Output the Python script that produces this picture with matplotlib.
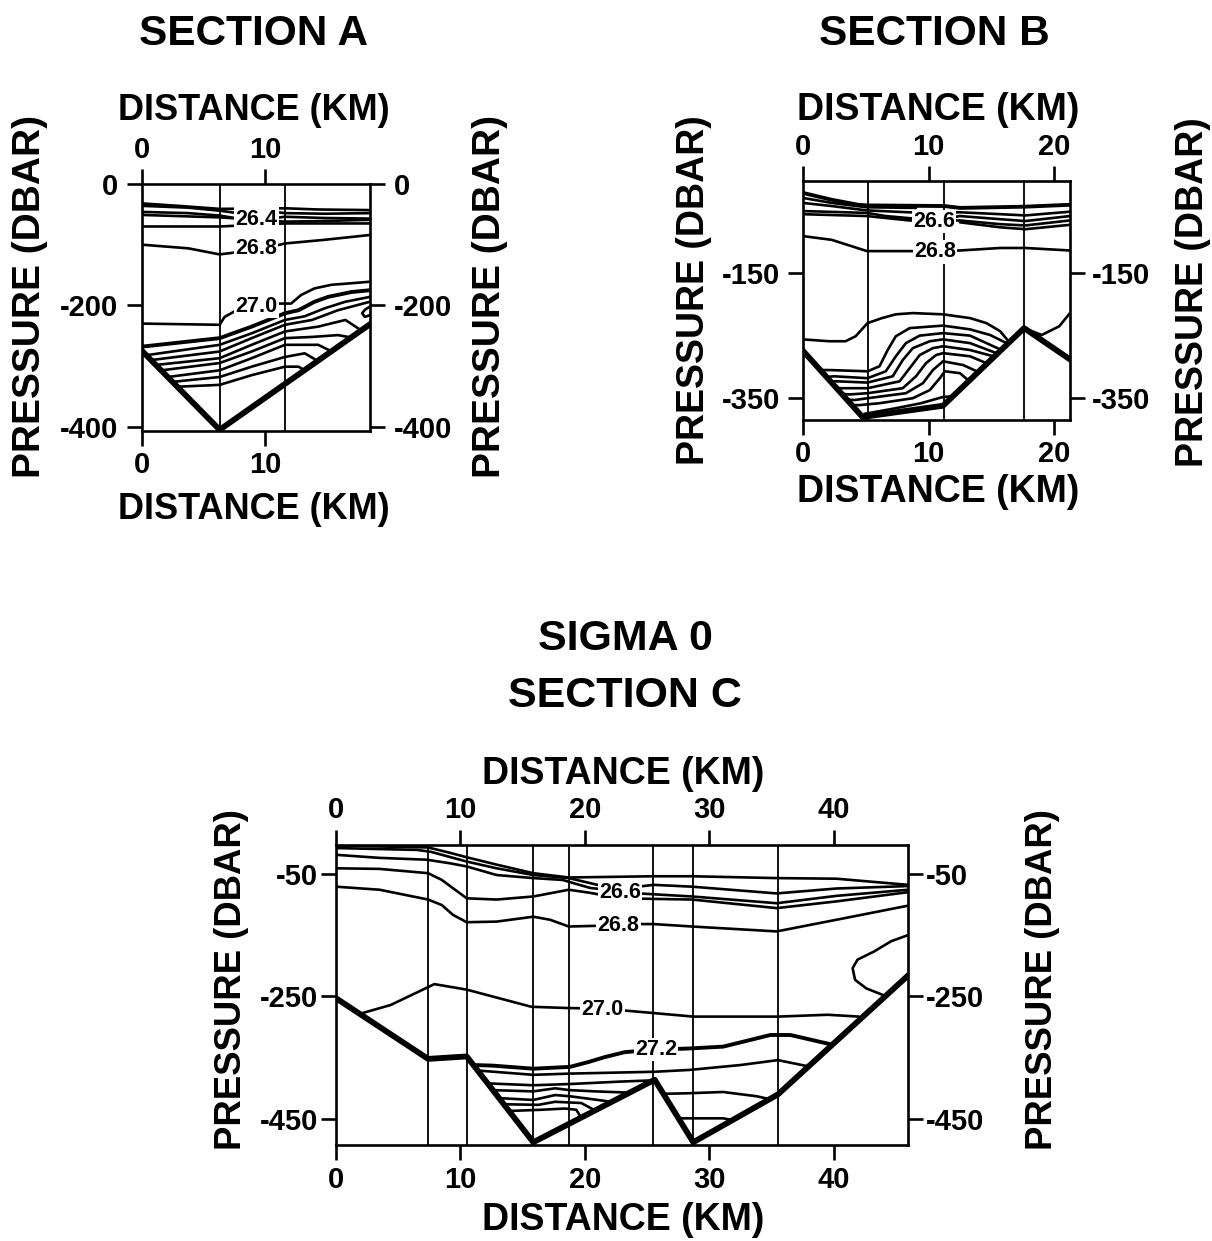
import matplotlib
matplotlib.use('Agg')
import matplotlib.pyplot as plt

plt.rcParams['font.family'] = ['Liberation Sans', 'DejaVu Sans']
plt.rcParams['font.weight'] = 'bold'
plt.rcParams['axes.unicode_minus'] = False

# ---------------- Section A ----------------
A_stations = [6.3, 11.6]
A_bottom_km = [0, 6.3, 18.5]
A_bottom_p = [-275, -405, -231]
A_lines_km = [
    [0, 2.95, 6.3, 11.6, 14.3, 18.5],
    [0, 3.75, 6.3, 7.4, 11.2, 11.6, 14.8, 18.5],
    [0, 3.75, 6.3, 7.5, 9.3, 11.2, 11.6, 14.8, 18.5],
    [0, 6.3, 11.6, 14.8, 18.5],
    [0, 6.3, 11.6, 14.8, 18.5],
    [0, 3.75, 6.3, 7.5, 9.2, 11.2, 11.6, 14.8, 18.5],
    [0, 6.3, 6.7, 7.5, 9.3, 11.2, 12.1, 12.9, 14.0, 15.4, 16.7, 18.5],
    [0, 6.3, 8.9, 11.6, 12.7, 14.0, 15.1, 17.0, 18.5],
    [0.4, 6.3, 8.9, 11.6, 13.2, 14.8, 16.5, 18.5],
    [0.8, 6.3, 8.9, 11.6, 13.8, 15.9, 18.5],
    [1.2, 6.3, 8.9, 11.6, 14.3, 16.5, 17.7],
    [1.6, 6.3, 8.9, 11.6, 13.8, 15.9, 17.0],
    [2.1, 6.3, 8.9, 11.6, 14.3, 15.4],
    [2.5, 6.3, 8.9, 11.6, 13.2, 14.3],
    [2.9, 6.3, 8.9, 11.6, 12.7, 13.2],
    [18.5, 18.1, 17.86, 18.08, 18.5],
]
A_lines_p = [
    [-32, -36, -41, -40, -42, -43],
    [-36, -39, -44, -47, -47, -48, -49, -48],
    [-46, -48, -52, -56, -58, -55, -54, -56, -57],
    [-51, -55, -62, -61, -59],
    [-70, -70, -65, -65, -65],
    [-100, -106, -116, -113, -107, -100, -98, -92, -84],
    [-230, -232, -219, -210, -203, -197, -197, -183, -172, -166, -164, -161],
    [-268, -254, -235, -213, -208, -194, -186, -178, -175],
    [-282, -265, -246, -224, -218, -205, -194, -186],
    [-290, -276, -254, -232, -224, -208, -194],
    [-298, -287, -265, -243, -235, -224, -240],
    [-307, -295, -276, -254, -252, -249, -253],
    [-318, -307, -287, -265, -265, -276],
    [-326, -318, -301, -285, -279, -292],
    [-334, -331, -315, -301, -301, -307],
    [-202, -207, -213, -219, -216],
]
A_thick = [7]
A_label_text = ['26.4', '26.8', '27.0']
A_label_km = [9.3, 9.25, 9.3]
A_label_p = [-58, -106, -202]

# ---------------- Section B ----------------
B_stations = [5.15, 11.2, 17.6]
B_bottom_km = [0, 4.75, 11.15, 17.6, 21.25]
B_bottom_p = [-274, -380, -362, -238, -288]
B_lines_km = [
    [0, 2.3, 4.4, 5.1, 11.26, 12.5, 17.7, 21.25],
    [0, 2.3, 5.1, 9.0],
    [0, 2.3, 5.1, 8.45, 12.5, 15.7, 17.7, 21.25],
    [0, 5.1, 6.6, 10.45, 12.5, 15.7, 17.7, 21.25],
    [0, 5.1, 8.45, 12.5, 15.7, 17.7, 21.25],
    [12.5, 15.7, 17.7, 21.25],
    [0, 2.3, 5.1, 8.7, 10.45, 12.5, 15.7, 17.7, 21.25],
    [0, 2.1, 3.4, 4.2, 5.15, 6.3, 7.4, 8.75, 11.15, 13.3, 14.6, 15.7, 16.4],
    [17.6, 19.0, 20.4, 21.25],
    [1.4, 2.1, 5.15, 6.1, 6.75, 7.4, 8.5, 11.15, 13.3, 14.9, 16.2],
    [1.9, 2.5, 5.15, 6.6, 7.4, 8.2, 9.3, 11.15, 13.3, 15.7],
    [2.2, 2.75, 5.15, 7.15, 7.95, 8.75, 10.1, 11.15, 13.3, 15.4],
    [2.7, 3.15, 5.15, 7.7, 8.5, 9.3, 10.35, 11.15, 13.3, 15.15],
    [3.1, 3.7, 5.15, 7.95, 9.0, 9.8, 10.6, 11.15, 13.3, 14.6],
    [3.5, 4.1, 5.15, 8.2, 9.55, 10.35, 11.15, 12.75, 13.95],
    [3.9, 4.5, 6.1, 8.75, 10.1, 10.9, 11.3, 12.5, 13.2],
    [4.9, 7.4, 9.4, 11.15, 11.9],
]
B_lines_p = [
    [-22, -33, -41, -42, -43, -46, -44, -41],
    [-30, -38, -45, -46],
    [-38, -43, -50, -53, -53, -56, -58, -52],
    [-51, -54, -59, -66, -59, -64, -67, -59],
    [-56, -59, -66, -66, -72, -74, -66],
    [-69, -77, -80, -73],
    [-91, -97, -115, -115, -115, -114, -110, -110, -114],
    [-256, -259, -259, -251, -230, -222, -216, -214, -216, -222, -230, -243, -260],
    [-238, -249, -235, -214],
    [-305, -305, -307, -299, -273, -251, -238, -234, -240, -249, -262],
    [-316, -315, -318, -307, -283, -262, -250, -246, -250, -272],
    [-323, -323, -325, -315, -289, -270, -259, -256, -262, -278],
    [-334, -334, -334, -323, -302, -281, -270, -267, -273, -283],
    [-343, -344, -342, -334, -315, -294, -281, -278, -283, -294],
    [-352, -353, -350, -342, -326, -305, -291, -297, -308],
    [-361, -361, -358, -350, -337, -318, -307, -310, -322],
    [-375, -366, -358, -348, -347],
]
B_thick = [0]
B_label_text = ['26.6', '26.8']
B_label_km = [10.45, 10.5]
B_label_p = [-68, -116]

# ---------------- Section C ----------------
C_stations = [7.4, 10.5, 15.85, 18.75, 25.5, 28.65, 35.5]
C_bottom_km = [0, 7.4, 10.5, 15.85, 25.6, 28.7, 35.5, 45.95]
C_bottom_p = [-253, -352, -348, -488, -386, -488, -410, -216]
C_lines_km = [
    [0, 7.4, 9.2, 10.5, 12.9, 15.85, 18.7, 25.5, 28.6, 35.4, 40.2, 45.95],
    [0, 6.5, 7.6, 10.5, 12.9, 15.85, 18.7, 21.0, 24.3, 25.5, 28.6, 35.4, 40.2, 45.95],
    [0, 3.5, 7.3, 9.2, 10.5, 12.9, 15.85, 18.2, 20.4, 24.3, 28.6, 35.4, 40.2, 45.95],
    [0, 3.5, 7.4, 8.5, 10.5, 12.9, 15.85, 18.7, 20.4, 22.8, 28.6, 35.4, 40.2, 45.95],
    [0, 3.5, 7.4, 8.5, 9.4, 10.5, 12.9, 15.85, 17.2, 18.7, 20.7, 24.3, 25.5, 28.6,
     35.4, 40.2, 45.95],
    [2.0, 4.4, 7.9, 10.5, 15.7, 18.6, 21.4, 25.4, 28.7, 35.5, 39.5, 42.0],
    [11.1, 12.6, 15.85, 18.8, 20.3, 21.6, 23.2, 25.6, 28.4, 31.1, 34.9, 36.5, 39.7],
    [11.4, 15.85, 18.8, 25.6, 28.4, 32.5, 35.5, 37.9],
    [12.2, 15.85, 18.8, 22.9, 25.5],
    [12.6, 15.85, 17.6, 18.8, 20.8, 23.5],
    [13.1, 15.85, 17.6, 18.8, 20.3, 22.1],
    [13.5, 16.25, 17.6, 19.7, 20.8],
    [13.9, 16.5, 18.4, 19.3, 19.7],
    [26.3, 28.4, 31.1, 33.8, 34.9],
    [27.5, 28.4, 31.1, 31.9],
    [45.95, 44.6, 43.2, 41.9, 41.5, 41.7, 42.6, 44.1],
]
C_lines_p = [
    [-4, -7, -16, -23, -35, -49, -56, -54, -54, -57, -58, -68],
    [-8, -11, -14, -30, -41, -52, -57, -68, -71, -68, -71, -82, -74, -70],
    [-19, -24, -27, -33, -38, -52, -57, -60, -73, -82, -87, -98, -86, -76],
    [-41, -42, -49, -60, -90, -92, -87, -76, -81, -90, -92, -106, -95, -80],
    [-71, -76, -92, -101, -117, -129, -128, -120, -125, -136, -135, -132, -132, -136,
     -144, -125, -102],
    [-278, -264, -230, -239, -267, -269, -270, -277, -283, -283, -280, -283],
    [-362, -363, -368, -365, -357, -349, -341, -337, -335, -332, -313, -313, -328],
    [-371, -378, -376, -373, -370, -362, -354, -364],
    [-392, -395, -393, -389, -387],
    [-403, -405, -400, -403, -405, -407],
    [-416, -419, -411, -413, -417, -422],
    [-426, -427, -422, -424, -436],
    [-437, -435, -433, -435, -448],
    [-409, -408, -406, -413, -418],
    [-449, -449, -449, -452],
    [-150, -160, -177, -190, -204, -223, -237, -249],
]
C_thick = [6]
C_label_text = ['26.6', '26.8', '27.0', '27.2']
C_label_km = [22.8, 22.7, 21.4, 25.7]
C_label_p = [-80, -134, -271, -337]

W, H = 1212, 1241


def draw_section(ax, stations, bot_km, bot_p, lines_km, lines_p, thick,
                 lab_txt, lab_km, lab_p):
    # estaciones (verticales), isopicnas, fondo y etiquetas
    for s in stations:
        ax.axvline(s, color='k', lw=1.3, zorder=1)
    for i, (xs, ys) in enumerate(zip(lines_km, lines_p)):
        ax.plot(xs, ys, color='k', lw=2.8 if i in thick else 1.9,
                solid_joinstyle='round', solid_capstyle='round', zorder=2)
    ax.plot(bot_km, bot_p, color='k', lw=4.2, zorder=3)
    for t, x, y in zip(lab_txt, lab_km, lab_p):
        ax.text(x, y, t, fontsize=15.5, ha='center', va='center', zorder=4,
                bbox=dict(boxstyle='square,pad=0.06', fc='white', ec='none'))


def style_axes(ax, xlim, ylim, xticks, yticks, xpad, ypad):
    ax.set_xlim(xlim)
    ax.set_ylim(ylim)
    ax.set_xticks(xticks)
    ax.set_yticks(yticks)
    ax.tick_params(direction='out', length=11, width=1.9, labelsize=21,
                   top=True, right=True, labeltop=True, labelright=True)
    ax.tick_params(axis='x', pad=xpad)
    ax.tick_params(axis='y', pad=ypad)
    for sp in ax.spines.values():
        sp.set_linewidth(1.9)


def ftext(fig, x, y, s, size, vertical=False):
    # x, y en pixeles desde la esquina superior izquierda; y es la linea base
    if vertical:
        fig.text(x / W, 1 - y / H, s, fontsize=size, rotation=90,
                 rotation_mode='anchor', ha='center', va='baseline')
    else:
        fig.text(x / W, 1 - y / H, s, fontsize=size, ha='center', va='baseline')


def main():
    fig = plt.figure(figsize=(W / 100, H / 100), dpi=100)

    # Section A
    ax_a = fig.add_axes([142 / W, 1 - 431 / H, 228 / W, 247 / H])
    draw_section(ax_a, A_stations, A_bottom_km, A_bottom_p, A_lines_km, A_lines_p,
                 A_thick, A_label_text, A_label_km, A_label_p)
    style_axes(ax_a, (0, 18.5), (-407, 0), [0, 10], [0, -200, -400], 3.5, 6)
    ftext(fig, 254, 45, 'SECTION A', 30.5)
    ftext(fig, 254, 120, 'DISTANCE (KM)', 26)
    ftext(fig, 254, 519, 'DISTANCE (KM)', 26)
    ftext(fig, 40, 296, 'PRESSURE (DBAR)', 28, vertical=True)
    ftext(fig, 500, 296, 'PRESSURE (DBAR)', 28, vertical=True)

    # Section B
    ax_b = fig.add_axes([802.8 / W, 1 - 419.5 / H, 267.2 / W, 238.5 / H])
    draw_section(ax_b, B_stations, B_bottom_km, B_bottom_p, B_lines_km, B_lines_p,
                 B_thick, B_label_text, B_label_km, B_label_p)
    style_axes(ax_b, (0, 21.25), (-384, -3), [0, 10, 20], [-150, -350], 3.5, 5)
    ftext(fig, 934, 45, 'SECTION B', 30.5)
    ftext(fig, 938, 120, 'DISTANCE (KM)', 27)
    ftext(fig, 938, 502, 'DISTANCE (KM)', 27)
    ftext(fig, 704, 290, 'PRESSURE (DBAR)', 27, vertical=True)
    ftext(fig, 1203, 292, 'PRESSURE (DBAR)', 27, vertical=True)

    # Section C
    ax_c = fig.add_axes([336 / W, 1 - 1145 / H, 572 / W, 300 / H])
    draw_section(ax_c, C_stations, C_bottom_km, C_bottom_p, C_lines_km, C_lines_p,
                 C_thick, C_label_text, C_label_km, C_label_p)
    style_axes(ax_c, (0, 45.95), (-492.5, -3), [0, 10, 20, 30, 40],
               [-50, -250, -450], 4, 2)
    ftext(fig, 625, 650, 'SIGMA 0', 31)
    ftext(fig, 625, 707, 'SECTION C', 31)
    ftext(fig, 623, 784, 'DISTANCE (KM)', 27)
    ftext(fig, 623, 1230, 'DISTANCE (KM)', 27)
    ftext(fig, 241, 980, 'PRESSURE (DBAR)', 26.3, vertical=True)
    ftext(fig, 1052, 980, 'PRESSURE (DBAR)', 26.3, vertical=True)

    fig.savefig('out.png', dpi=100, facecolor='white')


if __name__ == '__main__':
    main()
